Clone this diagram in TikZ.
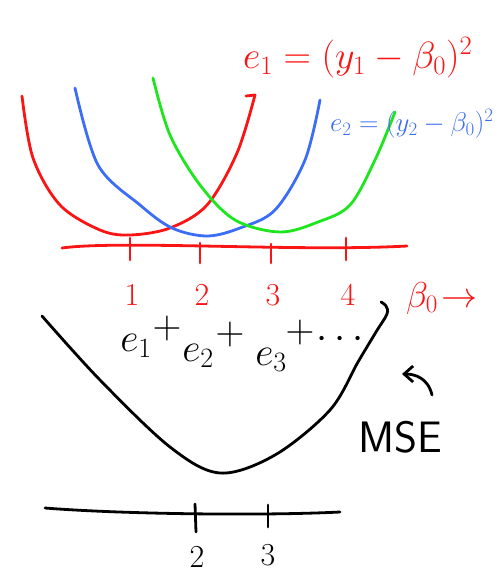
\RequirePackage{fix-cm}
\documentclass[tikz,border=0pt]{standalone}
\usetikzlibrary{arrows.meta}
\definecolor{hred}{RGB}{250,20,20}
\definecolor{hblue}{RGB}{60,110,245}
\definecolor{hgreen}{RGB}{30,230,30}
\begin{document}
\begin{tikzpicture}[x=1pt,y=-1pt,
  stroke/.style={line width=2.8pt,line cap=round,line join=round},
  tick/.style={stroke},
  lbl/.style={inner sep=0pt,font=\fontsize{32}{34}\selectfont},
  big/.style={inner sep=0pt,font=\fontsize{40}{42}\selectfont}]
\useasboundingbox (0,0) rectangle (503,576);
% top curves
\draw[stroke,hred] plot[smooth,tension=0.55] coordinates{(22,96) (33,158) (60,205) (100,230) (130,235) (170,228) (207,205) (237,153) (255,95)} -- (246,96);
\draw[stroke,hblue] plot[smooth,tension=0.55] coordinates{(75,88) (98,165) (140,205) (172,228) (207,236) (240,228) (275,210) (305,160) (320,100)};
\draw[stroke,hgreen] plot[smooth,tension=0.55] coordinates{(153,78) (170,135) (200,185) (235,220) (280,232) (318,222) (350,205) (375,160) (395,112)};
% red axis
\coordinate (ra) at (62,248);
\coordinate (rb) at (407,246);
\draw[stroke,hred] (ra) .. controls (120,240) and (300,252) .. (rb);
\foreach \x/\ya/\yb/\n in {130/238/260/1, 200/243/263/2, 271/244/263/3, 346/238/260/4}{
  \coordinate (t\n a) at (\x,\ya); \coordinate (t\n b) at (\x,\yb);
  \draw[tick,hred] (t\n a) -- (t\n b);
  \node[lbl,text=hred] (l\n) at (\x+2,295) {\n};
}
\node[lbl,text=hred,font=\fontsize{36}{38}\selectfont] (beta) at (442,298) {$\beta_0\!\rightarrow$};
% equations
\node[big,text=hred,anchor=west,font=\fontsize{38}{40}\selectfont] (eq1) at (243,58) {$e_1 = (y_1 - \beta_0)^2$};
\node[lbl,text=hblue,anchor=west,font=\fontsize{27}{29}\selectfont] (eq2) at (330,124) {$e_2 = (y_2 - \beta_0)^2$};
% MSE curve
\draw[stroke,black] plot[smooth,tension=0.55] coordinates{(42,316) (100,380) (170,447) (220,473) (275,455) (330,410) (358,362) (376,332) (387,314) (386,306) (381,302)};
\node[big] (s1) at (136,346) {$e_1$};
\node[big] (p1) at (167,328) {$+$};
\node[big] (s2) at (198,356) {$e_2$};
\node[big] (p2) at (230,334) {$+$};
\node[big] (s3) at (271,360) {$e_3$};
\node[big] (p3) at (300,332) {$+$};
\node[big] (dd) at (340,340) {$\cdots$};
\node[big,font=\fontsize{44}{46}\sffamily] (mse) at (400,437) {MSE};
\coordinate (mt) at (432,395);
\draw[stroke,black,-{Straight Barb[length=9pt,width=16pt]}] (mt) .. controls (428,378) and (415,374) .. (402,374);
% bottom axis
\coordinate (ba) at (45,508);
\coordinate (bb) at (340,512);
\draw[stroke,black] (ba) .. controls (120,514) and (260,516) .. (bb);
\coordinate (u2a) at (195,504); \coordinate (u2b) at (196,532);
\coordinate (u3a) at (268,505); \coordinate (u3b) at (268,527);
\draw[tick,black] (u2a) -- (u2b);
\draw[tick,black] (u3a) -- (u3b);
\node[lbl] (b2) at (197,557) {2};
\node[lbl] (b3) at (268,555) {3};
\end{tikzpicture}
\end{document}
